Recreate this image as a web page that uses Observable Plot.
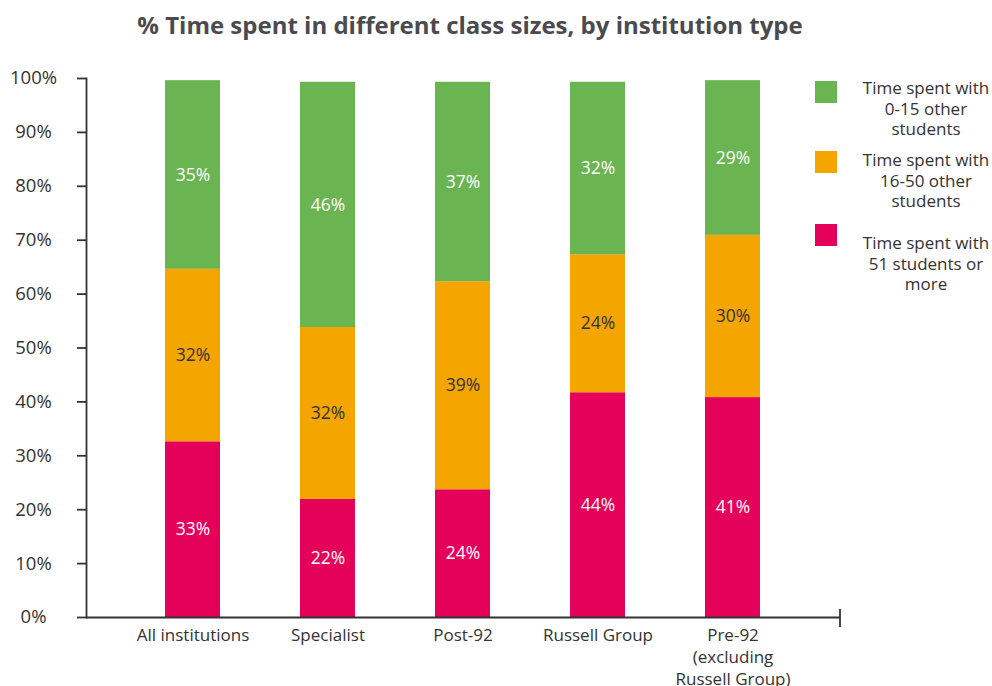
<!DOCTYPE html>
<html>
<head>
<meta charset="utf-8">
<script src="https://cdn.jsdelivr.net/npm/d3@7"></script>
<script src="https://cdn.jsdelivr.net/npm/@observablehq/plot@0.6"></script>
<style>
  body { margin: 0; background: #fff; font-family: "Open Sans", sans-serif; }
  #wrap { position: relative; width: 992px; height: 686px; overflow: hidden; }
  #title { position: absolute; left: 0; top: 0; width: 992px; height: 50px; line-height: 50px;
    box-sizing: border-box; padding-right: 52px; text-align: center; font-size: 24px; font-weight: 700; color: #4a4a4f; }
  #chart { position: absolute; left: 0; top: 50px; }
  .sw { position: absolute; width: 22px; height: 22px; left: 815px; }
  .lt { position: absolute; left: 851px; width: 150px; text-align: center; font-size: 17px; line-height: 20.5px; color: #333; }
</style>
</head>
<body>
<div id="wrap">
  <div id="title">% Time spent in different class sizes, by institution type</div>
  <div id="chart"></div>
  <div id="legend"></div>
</div>
<script>
const categories = ["All institutions", "Specialist", "Post-92", "Russell Group", "Pre-92\n(excluding\nRussell Group)"];
const seriesNames = ["Time spent with 51 students or more", "Time spent with 16-50 other students", "Time spent with 0-15 other students"];
const seriesColors = ["#e5005a", "#f5a500", "#6ab552"];
const legendLines = [["Time spent with", "0-15 other", "students"], ["Time spent with", "16-50 other", "students"], ["Time spent with", "51 students or", "more"]];
const large = [32.6, 21.9, 23.7, 41.7, 40.8];
const medium = [32.0, 31.9, 38.6, 25.6, 30.1];
const small = [35.0, 45.5, 37.0, 32.0, 28.7];
const largeLabels = ["33%", "22%", "24%", "44%", "41%"];
const mediumLabels = ["32%", "32%", "39%", "24%", "30%"];
const smallLabels = ["35%", "46%", "37%", "32%", "29%"];
const yTicks = [0, 10, 20, 30, 40, 50, 60, 70, 80, 90, 100];

const rows = categories.flatMap((c, i) => [
  {cat: c, series: seriesNames[0], value: large[i], label: largeLabels[i]},
  {cat: c, series: seriesNames[1], value: medium[i], label: mediumLabels[i]},
  {cat: c, series: seriesNames[2], value: small[i], label: smallLabels[i]}
]);

const endTick = (index, scales, values, dimensions) => {
  const x = dimensions.width - dimensions.marginRight;
  const y = scales.y(0);
  const g = d3.create("svg:g");
  g.append("line").attr("x1", x).attr("x2", x).attr("y1", y - 8).attr("y2", y + 10)
    .attr("stroke", "#333").attr("stroke-width", 1.8);
  return g.node();
};

const chart = Plot.plot({
  width: 992,
  height: 636,
  marginTop: 28,
  marginBottom: 69,
  marginLeft: 86,
  marginRight: 152,
  style: {fontFamily: "Open Sans, sans-serif", fontSize: "17px", color: "#333", background: "white"},
  x: {domain: categories, paddingInner: 0.59, paddingOuter: 0.5875, label: null},
  y: {domain: [0, 100], label: null},
  color: {domain: seriesNames, range: seriesColors},
  marks: [
    Plot.barY(rows, Plot.stackY({x: "cat", y: "value", fill: "series", z: "series"})),
    Plot.text(rows, Plot.stackY({x: "cat", y: "value", z: "series", text: d => d.series !== seriesNames[1] ? d.label : "", fill: "white", fontSize: 17.5})),
    Plot.text(rows, Plot.stackY({x: "cat", y: "value", z: "series", text: d => d.series === seriesNames[1] ? d.label : "", fill: "#333", fontSize: 17.5})),
    Plot.axisY({ticks: yTicks, tickFormat: d => d + "%", tickSize: 9, tickPadding: 44, textAnchor: "middle", strokeWidth: 1.8, stroke: "#333", fill: "#333", fontSize: 18.5}),
    Plot.axisX({tickSize: 0, tickPadding: 8, fill: "#333", fontSize: 17, lineHeight: 1.3}),
    Plot.frame({anchor: "left", stroke: "#333", strokeWidth: 1.8}),
    Plot.ruleY([0], {stroke: "#333", strokeWidth: 1.8}),
    endTick
  ]
});
document.getElementById("chart").appendChild(chart);

const legend = document.getElementById("legend");
const order = [2, 1, 0];
const swTops = [81, 151, 224];
const txtTops = [78, 150, 233];
order.forEach((si, k) => {
  const sw = document.createElement("div");
  sw.className = "sw";
  sw.style.top = swTops[k] + "px";
  sw.style.background = seriesColors[si];
  legend.appendChild(sw);
  const t = document.createElement("div");
  t.className = "lt";
  t.style.top = txtTops[k] + "px";
  t.innerHTML = legendLines[k].join("<br>");
  legend.appendChild(t);
});
</script>
</body>
</html>
